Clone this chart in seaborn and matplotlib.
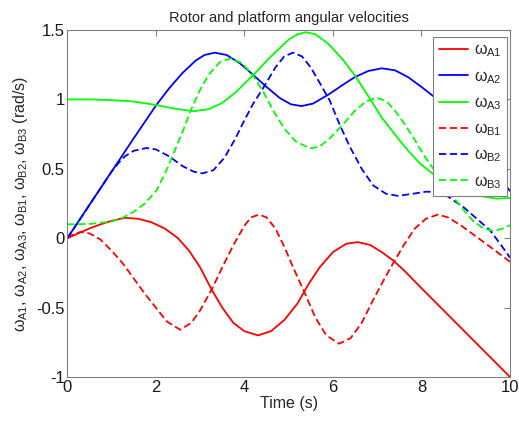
import numpy as np
import pandas as pd
import matplotlib as mpl
import matplotlib.pyplot as plt
import seaborn as sns

# values
t_A1 = [0, 0.25, 0.5, 0.75, 1.0, 1.3, 1.6, 1.9, 2.2, 2.5, 2.75, 3.0, 3.26, 3.5, 3.75, 4.0, 4.31, 4.6, 4.9,
        5.2, 5.45, 5.7, 6.0, 6.3, 6.56, 6.85, 7.1, 7.36, 7.6, 8.0, 8.5, 9.0, 9.5, 10]
w_A1 = [0, 0.035, 0.07, 0.10, 0.125, 0.147, 0.14, 0.115, 0.07, 0.0, -0.09, -0.21, -0.37, -0.50, -0.61, -0.67,
        -0.70, -0.67, -0.59, -0.47, -0.33, -0.21, -0.10, -0.04, -0.028, -0.05, -0.10, -0.16, -0.23, -0.36,
        -0.52, -0.68, -0.84, -1.0]

t_A2 = [0, 0.5, 1.0, 1.5, 2.0, 2.3, 2.6, 2.9, 3.1, 3.33, 3.6, 3.9, 4.2, 4.5, 4.8, 5.05, 5.29, 5.55, 5.9, 6.2,
        6.49, 6.8, 7.1, 7.4, 7.7, 8.0, 8.34, 8.7, 9.0, 9.3, 9.6, 9.8, 10]
w_A2 = [0, 0.24, 0.48, 0.72, 0.955, 1.08, 1.19, 1.28, 1.32, 1.337, 1.32, 1.26, 1.176, 1.09, 1.01, 0.965, 0.952,
        0.97, 1.035, 1.10, 1.16, 1.205, 1.224, 1.21, 1.16, 1.09, 1.005, 0.88, 0.76, 0.63, 0.50, 0.42, 0.34]

t_A3 = [0, 0.5, 1.0, 1.5, 2.0, 2.4, 2.85, 3.2, 3.5, 3.8, 4.2, 4.6, 5.0, 5.2, 5.39, 5.6, 5.9, 6.23, 6.49, 6.83,
        7.1, 7.44, 7.7, 7.96, 8.34, 8.7, 9.0, 9.4, 9.7, 10]
w_A3 = [1.0, 1.0, 0.995, 0.985, 0.96, 0.935, 0.915, 0.93, 0.975, 1.05, 1.176, 1.31, 1.43, 1.47, 1.484, 1.47,
        1.40, 1.284, 1.176, 1.008, 0.87, 0.731, 0.63, 0.54, 0.442, 0.37, 0.33, 0.30, 0.285, 0.29]

t_B1 = [0, 0.15, 0.3, 0.5, 0.75, 1.0, 1.25, 1.5, 1.75, 2.0, 2.25, 2.55, 2.8, 3.0, 3.26, 3.5, 3.75, 4.0, 4.15,
        4.33, 4.5, 4.7, 4.9, 5.1, 5.37, 5.6, 5.85, 6.14, 6.4, 6.65, 6.9, 7.15, 7.36, 7.6, 7.85, 8.1, 8.37,
        8.6, 8.9, 9.2, 9.5, 9.75, 10]
w_B1 = [0, 0.03, 0.045, 0.035, -0.01, -0.09, -0.18, -0.29, -0.40, -0.50, -0.60, -0.66, -0.61, -0.52, -0.37,
        -0.21, -0.05, 0.09, 0.15, 0.17, 0.15, 0.07, -0.06, -0.21, -0.40, -0.57, -0.70, -0.76, -0.72, -0.61,
        -0.45, -0.30, -0.18, -0.05, 0.07, 0.14, 0.17, 0.15, 0.09, 0.02, -0.05, -0.11, -0.17]

t_B2 = [0, 0.5, 1.0, 1.15, 1.3, 1.5, 1.79, 2.0, 2.3, 2.6, 2.85, 3.05, 3.3, 3.55, 3.8, 4.0, 4.2, 4.42, 4.7, 4.9,
        5.1, 5.3, 5.5, 5.7, 5.93, 6.15, 6.38, 6.65, 6.91, 7.2, 7.47, 7.8, 8.1, 8.34, 8.6, 8.98, 9.25, 9.54,
        9.8, 10]
w_B2 = [0, 0.24, 0.48, 0.54, 0.59, 0.63, 0.65, 0.64, 0.59, 0.52, 0.48, 0.467, 0.49, 0.58, 0.72, 0.85, 0.97,
        1.08, 1.23, 1.31, 1.337, 1.31, 1.23, 1.12, 0.99, 0.82, 0.66, 0.50, 0.38, 0.32, 0.305, 0.32, 0.335,
        0.334, 0.30, 0.216, 0.14, 0.06, -0.05, -0.14]

t_B3 = [0, 0.5, 1.0, 1.26, 1.5, 1.75, 2.02, 2.24, 2.43, 2.62, 2.8, 3.0, 3.2, 3.45, 3.71, 3.95, 4.2, 4.42, 4.65,
        4.9, 5.15, 5.48, 5.7, 5.93, 6.2, 6.5, 6.75, 6.98, 7.2, 7.4, 7.6, 7.81, 8.05, 8.34, 8.6, 8.9, 9.15,
        9.4, 9.62, 9.8, 10]
w_B3 = [0.1, 0.103, 0.12, 0.149, 0.19, 0.25, 0.346, 0.49, 0.635, 0.78, 0.93, 1.07, 1.18, 1.27, 1.296, 1.26,
        1.17, 1.06, 0.92, 0.79, 0.70, 0.647, 0.66, 0.72, 0.81, 0.92, 0.985, 1.012, 0.99, 0.92, 0.83, 0.73,
        0.60, 0.467, 0.34, 0.226, 0.13, 0.07, 0.053, 0.065, 0.094]

labels = [r'$\omega_{A1}$', r'$\omega_{A2}$', r'$\omega_{A3}$',
          r'$\omega_{B1}$', r'$\omega_{B2}$', r'$\omega_{B3}$']
x_ticks = [0, 2, 4, 6, 8, 10]
y_ticks = [-1, -0.5, 0, 0.5, 1, 1.5]
y_tick_labels = ['-1', '-0.5', '0', '0.5', '1', '1.5']

frames = []
for lab, t, w in zip(labels, [t_A1, t_A2, t_A3, t_B1, t_B2, t_B3],
                     [w_A1, w_A2, w_A3, w_B1, w_B2, w_B3]):
    frames.append(pd.DataFrame({'t': t, 'w': w, 'series': lab}))
df = pd.concat(frames, ignore_index=True)

sns.set_style('white')
plt.rcParams['font.family'] = ['Liberation Sans', 'DejaVu Sans']
plt.rcParams['mathtext.fontset'] = 'custom'
plt.rcParams['mathtext.rm'] = 'Liberation Sans'
plt.rcParams['mathtext.it'] = 'Liberation Sans'
plt.rcParams['mathtext.bf'] = 'Liberation Sans'

cols = ['#ff0000', '#0000ff', '#00ff00']
palette = dict(zip(labels, cols + cols))
dashes = dict(zip(labels, [''] * 3 + [(4, 2)] * 3))

fig = plt.figure(figsize=(5.19, 4.21), dpi=100)
ax = fig.add_axes([0.1297, 0.1045, 0.853, 0.8242])

sns.lineplot(data=df, x='t', y='w', hue='series', style='series',
             palette=palette, dashes=dashes, estimator=None, sort=False,
             linewidth=1.3, ax=ax)

ax.set_xlim(0, 10)
ax.set_ylim(-1, 1.5)
ax.set_xticks(x_ticks)
ax.set_xticklabels([str(v) for v in x_ticks])
ax.set_yticks(y_ticks)
ax.set_yticklabels(y_tick_labels)
ax.tick_params(direction='in', length=4, width=0.8, colors='#808080',
               labelcolor='#1a1a1a', labelsize=12, pad=2,
               top=True, right=True)
for s in ax.spines.values():
    s.set_color('#808080')
    s.set_linewidth(0.8)

ax.set_title('Rotor and platform angular velocities', fontsize=10.5, pad=6)
ax.set_xlabel('Time (s)', fontsize=11.5, labelpad=1)
ax.set_ylabel(r'$\omega_{A1}$, $\omega_{A2}$, $\omega_{A3}$, $\omega_{B1}$, $\omega_{B2}$, $\omega_{B3}$ (rad/s)',
              fontsize=11.5, labelpad=4)

h, l = ax.get_legend_handles_labels()
leg = ax.legend(h, l, loc='upper right', bbox_to_anchor=(0.9933, 0.98),
                fontsize=11.5, frameon=True, fancybox=False,
                edgecolor='#808080', framealpha=1, handlelength=1.85,
                labelspacing=0.6, borderaxespad=0, handletextpad=0.35,
                borderpad=0.35)
leg.get_frame().set_linewidth(0.8)

fig.savefig('out.png', dpi=100)
